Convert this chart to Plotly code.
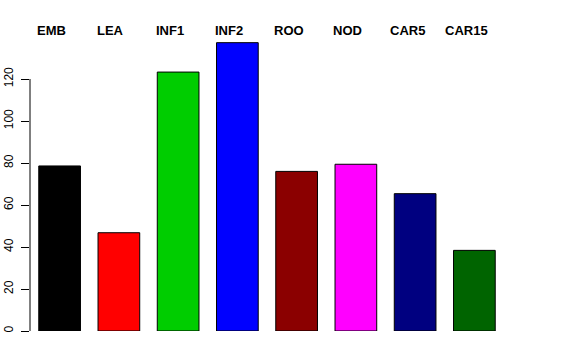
import plotly.graph_objects as go

categories = ["EMB", "LEA", "INF1", "INF2", "ROO", "NOD", "CAR5", "CAR15"]
values = [78.6, 46.8, 123.3, 137.3, 76.0, 79.4, 65.4, 38.4]
colors = ["#000000", "#FF0000", "#00CD00", "#0000FF", "#8B0000", "#FF00FF", "#000080", "#006400"]
y_ticks = [0, 20, 40, 60, 80, 100, 120]

TOP, BOTTOM, LEFT, RIGHT = 37, 29, 30, 72
W, H = 576, 360
plot_h = H - TOP - BOTTOM

fig = go.Figure()
fig.add_trace(go.Bar(
    x=categories, y=values,
    marker=dict(color=colors, line=dict(color="#000000", width=1)),
    showlegend=False, hoverinfo="skip",
))

for c in categories:
    fig.add_annotation(
        x=c, xref="x", y=(H - BOTTOM - 31) / plot_h, yref="paper", yanchor="middle",
        text="<b>%s</b>" % c, showarrow=False, xshift=-8,
        font=dict(family="Liberation Sans, Arial, sans-serif", size=13, color="#000000"),
    )

fig.update_layout(
    width=W, height=H,
    margin=dict(l=LEFT, r=RIGHT, t=TOP, b=BOTTOM, autoexpand=False),
    paper_bgcolor="white", plot_bgcolor="white",
    bargap=0.296,
    xaxis=dict(range=[-0.5, 7.5], visible=False, automargin=False),
    yaxis=dict(
        range=[0, 140], tickvals=y_ticks, ticktext=[str(v) for v in y_ticks],
        ticks="outside", ticklen=8, tickcolor="#000000", tickwidth=1,
        showgrid=False, zeroline=False, showline=False, tickangle=-90,
        automargin=False, ticklabelstandoff=3,
        tickfont=dict(family="Liberation Sans, Arial, sans-serif", size=12, color="#000000"),
    ),
    shapes=[dict(type="line", xref="paper", yref="y", x0=0, x1=0, y0=0, y1=120,
                 line=dict(color="#000000", width=1))],
)

fig.write_html("out.html", config={"displayModeBar": False, "staticPlot": True},
               post_script="document.body.style.margin='0';")
